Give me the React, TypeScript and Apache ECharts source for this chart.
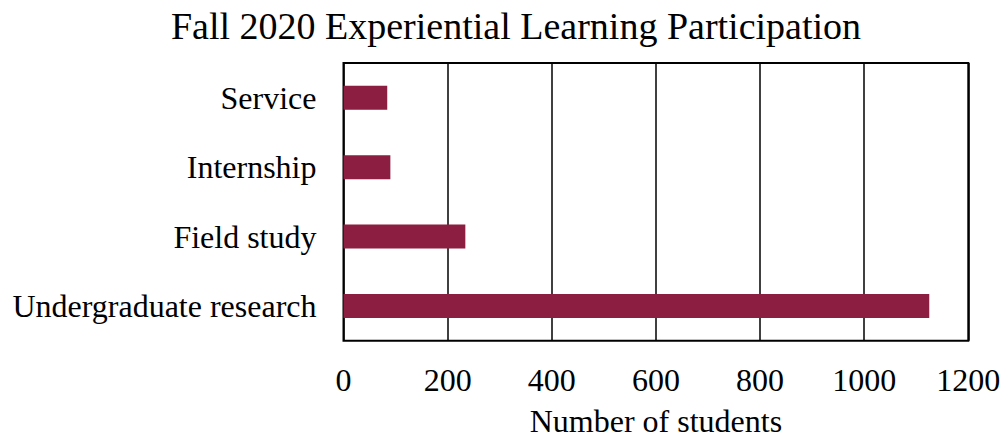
import React, { useEffect, useRef } from "react";
import * as echarts from "echarts";

const categories = ["Undergraduate research", "Field study", "Internship", "Service"];
const values = [1125, 234, 90, 84];
const xTicks = [0, 200, 400, 600, 800, 1000, 1200];

export default function App() {
  const ref = useRef<HTMLDivElement>(null);
  useEffect(() => {
    const chart = echarts.init(ref.current!, null, { renderer: "svg" });
    const font = "'Liberation Serif', 'Times New Roman', serif";
    chart.setOption({
      animation: false,
      backgroundColor: "#fff",
      title: {
        text: "Fall 2020 Experiential Learning Participation",
        left: 511,
        textAlign: "center",
        top: 2,
        textStyle: { fontFamily: font, fontSize: 38, fontWeight: "normal", color: "#000" },
      },
      grid: {
        left: 343.5,
        right: 33.7,
        top: 63,
        bottom: 98.3,
        show: true,
        borderColor: "#000",
        borderWidth: 2,
        outerBoundsMode: "none",
        containLabel: false,
      },
      xAxis: {
        type: "value",
        min: xTicks[0],
        max: xTicks[xTicks.length - 1],
        interval: 200,
        name: "Number of students",
        nameLocation: "middle",
        nameGap: 64,
        nameTextStyle: { fontFamily: font, fontSize: 32, color: "#000" },
        axisLine: { show: false },
        axisTick: { show: false },
        axisLabel: {
          fontFamily: font,
          fontSize: 32,
          color: "#000",
          margin: 23,
          formatter: (v: number) => String(v),
        },
        splitLine: { show: true, lineStyle: { color: "#000", width: 1.5 } },
      },
      yAxis: {
        type: "category",
        data: categories,
        axisLine: { show: false },
        axisTick: { show: false },
        axisLabel: { fontFamily: font, fontSize: 32, color: "#000", margin: 27 },
        splitLine: { show: false },
      },
      series: [
        {
          type: "bar",
          data: values,
          barWidth: 24,
          itemStyle: { color: "#8B1E41" },
        },
      ],
    });
    return () => chart.dispose();
  }, []);
  return <div ref={ref} style={{ width: 1002, height: 439, position: "absolute", left: 0, top: 0 }} />;
}
